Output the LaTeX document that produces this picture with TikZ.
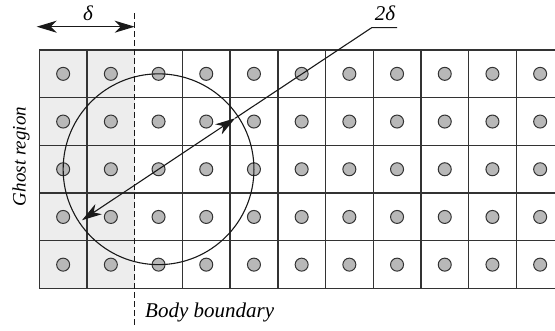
\documentclass[tikz,border=0pt]{standalone}
\usepackage{fontspec}
\setmainfont{Liberation Serif}
\usetikzlibrary{arrows.meta}
\begin{document}
\begin{tikzpicture}[x=1pt,y=-1pt,
  gridline/.style={draw=black!80, line width=1.4pt},
  dotnode/.style={circle, draw=black!80, fill=black!28, line width=1pt, minimum size=13pt, inner sep=0pt},
  lbl/.style={font=\fontsize{21}{24}\selectfont\itshape, text=black, inner sep=0pt},
  thin/.style={draw=black!90, line width=1.1pt},
  headtip/.tip={Stealth[length=20pt,width=12pt,inset=6pt]},
  tip/.style={-headtip},
  dashline/.style={draw=black!90, line width=1.4pt, dash pattern=on 6pt off 3pt},
]
\useasboundingbox (0,0) rectangle (555,331);
\def\cs{47.7}
\def\ox{39.3}
\def\oy{50}
\begin{scope}
  \clip (0,0) rectangle (555,331);
  \fill[black!7] (\ox,\oy) rectangle ++({2*\cs},{5*\cs});
  \foreach \i in {0,1,3,4,5,6,7,8,9,10,11}
    \draw[gridline] ({\ox+\i*\cs},\oy) -- ++(0,{5*\cs});
  \foreach \j in {0,...,5}
    \draw[gridline] (\ox,{\oy+\j*\cs}) -- ++({11*\cs},0);
  \foreach \i in {0,...,10}
    \foreach \j in {0,...,4}
      \node[dotnode] (d\i-\j) at ({\ox+(\i+0.5)*\cs},{\oy+(\j+0.5)*\cs}) {};
\end{scope}
% circle of radius delta around cell (2,2)
\draw[thin] (d2-2.center) circle[radius={2*\cs}];
% diameter arrow
\coordinate (p1) at ([shift={(76.6,-51)}]d2-2.center);
\coordinate (p2) at ([shift={(-76.6,51)}]d2-2.center);
\coordinate (lead) at (371.7,27.7);
\coordinate (leadend) at (397,27.7);
\draw[thin,tip] (d2-2.center) -- (p1);
\draw[thin,tip] (d2-2.center) -- (p2);
\draw[thin] (p1) -- (lead) -- (leadend);
\node[lbl] (twodelta) at (385,13.5) {2δ};
% body boundary
\coordinate (btop) at ({\ox+2*\cs},13.3);
\coordinate (bbot) at ({\ox+2*\cs},328);
\draw[dashline] (btop) -- (bbot);
% delta arrow
\coordinate (dl) at (36.7,26.7);
\coordinate (dr) at ({\ox+2*\cs},26.7);
\draw[thin,headtip-headtip] (dl) -- (dr);
\node[lbl] (delta) at (88,13.5) {δ};
\node[lbl, anchor=base west] (body) at (145,318) {Body boundary};
\node[lbl, font=\fontsize{19}{22}\selectfont\itshape, rotate=90] (ghost) at (21,156.5) {Ghost region};
\end{tikzpicture}
\end{document}
